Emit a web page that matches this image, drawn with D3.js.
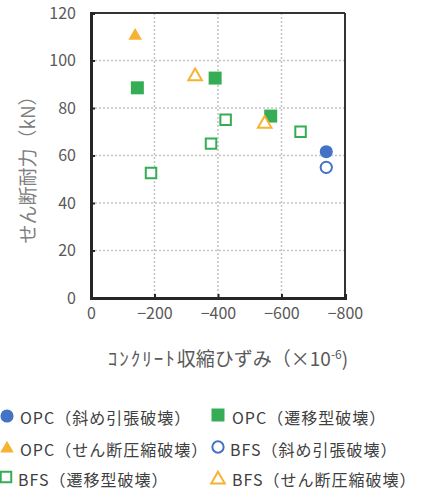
<!DOCTYPE html>
<html><head><meta charset="utf-8">
<script src="https://cdn.jsdelivr.net/npm/d3@7"></script>
<style>
html,body{margin:0;padding:0;background:#fff;}
svg{display:block;font-family:"Noto Sans CJK JP","Noto Sans",sans-serif;}
</style></head>
<body><svg id="c" width="422" height="495"></svg>
<script>
// ---- data ----
const seriesNames = ["OPC（斜め引張破壊）","OPC（遷移型破壊）","OPC（せん断圧縮破壊）","BFS（斜め引張破壊）","BFS（遷移型破壊）","BFS（せん断圧縮破壊）"];
const opcDiagX = [-741];            const opcDiagY = [61.6];
const opcTransX = [-146,-391,-566]; const opcTransY = [88.5,92.6,76.6];
const opcShearX = [-139];           const opcShearY = [111];
const bfsDiagX = [-741];            const bfsDiagY = [55];
const bfsTransX = [-189,-378,-424,-660]; const bfsTransY = [52.6,65,75.1,70];
const bfsShearX = [-328,-547];      const bfsShearY = [94,74];
const xTicks = [0,-200,-400,-600,-800];
const yTicks = [0,20,40,60,80,100,120];
const xTitleKana = "ｺﾝｸﾘｰﾄ";
const xTitleRest = "収縮ひずみ（×10";
const yTitle = "せん断耐力（kN）";

const blue="#4472C4", green="#35AD55", orange="#F6B333";
const series = [
  {name:seriesNames[0], xs:opcDiagX,  ys:opcDiagY,  shape:d3.symbolCircle,   color:blue,   fill:true},
  {name:seriesNames[1], xs:opcTransX, ys:opcTransY, shape:d3.symbolSquare,   color:green,  fill:true},
  {name:seriesNames[2], xs:opcShearX, ys:opcShearY, shape:d3.symbolTriangle, color:orange, fill:true},
  {name:seriesNames[3], xs:bfsDiagX,  ys:bfsDiagY,  shape:d3.symbolCircle,   color:blue,   fill:false},
  {name:seriesNames[4], xs:bfsTransX, ys:bfsTransY, shape:d3.symbolSquare,   color:green,  fill:false},
  {name:seriesNames[5], xs:bfsShearX, ys:bfsShearY, shape:d3.symbolTriangle, color:orange, fill:false}
];

const svg = d3.select("#c");
const L=91,R=345,T=13,B=298;
const x = d3.scaleLinear().domain([0,-800]).range([L,R]);
const y = d3.scaleLinear().domain([0,120]).range([B,T]);

// grid
const g = svg.append("g");
g.selectAll(".gy").data(yTicks.filter(v=>v>0&&v<120)).join("line")
  .attr("x1",L).attr("x2",R).attr("y1",d=>y(d)).attr("y2",d=>y(d))
  .attr("stroke","#c4c4c4").attr("stroke-width",1.5).attr("stroke-dasharray","2,2");
g.selectAll(".gx").data(xTicks.filter(v=>v<0&&v>-800)).join("line")
  .attr("y1",T).attr("y2",B).attr("x1",d=>x(d)).attr("x2",d=>x(d))
  .attr("stroke","#c4c4c4").attr("stroke-width",1.5).attr("stroke-dasharray","2,2");

// frame
svg.append("line").attr("x1",L).attr("x2",R).attr("y1",T).attr("y2",T).attr("stroke","#333").attr("stroke-width",2);
svg.append("line").attr("x1",R).attr("x2",R).attr("y1",T).attr("y2",B).attr("stroke","#333").attr("stroke-width",2);

// axes
const ax = svg.append("g").attr("transform",`translate(0,${B})`)
  .call(d3.axisBottom(x).tickValues(xTicks).tickSize(-4).tickPadding(10)
    .tickFormat(d=>d===0?"0":"−"+Math.abs(d)));
const ay = svg.append("g").attr("transform",`translate(${L},0)`)
  .call(d3.axisLeft(y).tickValues(yTicks).tickSize(-4).tickPadding(15));
[ax,ay].forEach(a=>{
  a.select(".domain").attr("stroke","#262626").attr("stroke-width",3);
  a.selectAll(".tick line").attr("stroke","#262626").attr("stroke-width",2);
  a.selectAll(".tick text").attr("fill","#595959").attr("font-size",16)
   .attr("font-family","'Noto Sans CJK JP',sans-serif");
});

// titles
const xt = svg.append("text").attr("x",228).attr("y",366).attr("text-anchor","middle")
  .attr("fill","#595959").attr("font-size",19);
xt.append("tspan").attr("letter-spacing",2).text(xTitleKana);
xt.append("tspan").text(xTitleRest);
xt.append("tspan").attr("font-size",12).attr("dy",-7).text("-6");
xt.append("tspan").attr("dy",7).text(")");
svg.append("text").attr("transform","translate(35,165) rotate(-90)").attr("text-anchor","middle")
  .attr("fill","#7f7f7f").attr("font-size",19).text(yTitle);

// marks
const sym = (s)=>{
  const size = s.shape===d3.symbolTriangle ? 80 : (s.shape===d3.symbolSquare ? (s.fill?169:110) : (s.fill?135:100));
  return d3.symbol().type(s.shape).size(size)();
};
series.forEach(s=>{
  const pts = s.xs.map((v,i)=>[v,s.ys[i]]);
  svg.append("g").selectAll("path").data(pts).join("path")
    .attr("d",sym(s))
    .attr("transform",d=>`translate(${x(d[0])},${y(d[1])+(s.shape===d3.symbolTriangle?1.5:0)})`)
    .attr("fill",s.fill?s.color:"#fff")
    .attr("stroke",s.fill?"none":s.color).attr("stroke-width",2);
});

// legend
const legPos = [[7,416,20,424],[218,415,232,424],[7,447,20,456],[218,447,230,456],[6,477,18,486],[218,478,232,486]];
series.forEach((s,i)=>{
  const p = legPos[i];
  svg.append("path").attr("d",sym(s))
    .attr("transform",`translate(${p[0]},${p[1]+(s.shape===d3.symbolTriangle?1.5:0)})`)
    .attr("fill",s.fill?s.color:"#fff")
    .attr("stroke",s.fill?"none":s.color).attr("stroke-width",2);
  svg.append("text").attr("x",p[2]).attr("y",p[3]).attr("font-size",16)
    .attr("letter-spacing",1).attr("fill","#404040").text(s.name);
});
</script></body></html>
